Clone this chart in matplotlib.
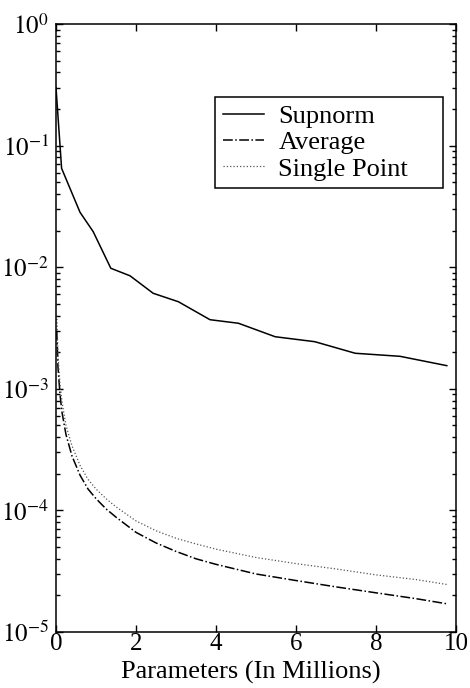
import matplotlib
matplotlib.use("Agg")
import matplotlib.pyplot as plt
from matplotlib.ticker import LogLocator

plt.rcParams['font.family'] = ['Liberation Serif', 'DejaVu Serif']
plt.rcParams['mathtext.fontset'] = 'stix'

# Supnorm error (piecewise linear)
sup_x = [0.0, 0.14, 0.6, 0.93, 1.37, 1.85, 2.43, 3.06, 3.85, 4.56, 5.48, 6.47, 7.48, 8.6, 9.77]
sup_y = [0.30, 0.065, 0.0283, 0.0196, 0.0098, 0.0085, 0.0061, 0.0052, 0.0037,
         0.00346, 0.00268, 0.00244, 0.00196, 0.00185, 0.00155]

# Average and Single Point errors
avg_x = [0.02, 0.05, 0.1, 0.15, 0.25, 0.4, 0.6, 0.8, 1.0, 1.25, 1.5, 2.0, 2.5, 3.0,
         3.5, 4.0, 5.0, 6.0, 7.0, 8.0, 9.0, 9.8]
avg_y = [3.0e-3, 1.5e-3, 9.0e-4, 6.4e-4, 4.2e-4, 2.8e-4, 1.95e-4, 1.5e-4, 1.25e-4,
         1.03e-4, 8.8e-5, 6.6e-5, 5.4e-5, 4.6e-5, 4.0e-5, 3.6e-5, 3.0e-5, 2.65e-5,
         2.35e-5, 2.1e-5, 1.88e-5, 1.7e-5]
sp_y = [4.0e-3, 1.9e-3, 1.1e-3, 7.8e-4, 5.0e-4, 3.4e-4, 2.35e-4, 1.8e-4, 1.5e-4,
        1.25e-4, 1.07e-4, 8.2e-5, 6.8e-5, 5.9e-5, 5.3e-5, 4.8e-5, 4.1e-5, 3.65e-5,
        3.3e-5, 2.95e-5, 2.7e-5, 2.45e-5]

series_labels = ["Supnorm", "Average", "Single Point"]
x_ticks = [0, 2, 4, 6, 8, 10]
y_ticks = [1e-5, 1e-4, 1e-3, 1e-2, 1e-1, 1e0]
y_ticklabels = [r'$10^{-5}$', r'$10^{-4}$', r'$10^{-3}$', r'$10^{-2}$', r'$10^{-1}$', r'$10^{0}$']

fig = plt.figure(figsize=(4.70, 6.88), dpi=100)
ax = fig.add_axes([56/470, 56/688, 400/470, 608/688])

ax.plot(sup_x, sup_y, color='black', lw=1.1, ls='-', label=series_labels[0])
ax.plot(avg_x, avg_y, color='black', lw=1.1, ls='-.', label=series_labels[1])
ax.plot(avg_x, sp_y, color='#555555', lw=0.9, ls=':', label=series_labels[2])

ax.set_yscale('log')
ax.set_xlim(0, 10)
ax.set_ylim(1e-5, 1e0)
ax.set_xticks(x_ticks)
ax.set_xticklabels([str(t) for t in x_ticks])
ax.set_yticks(y_ticks)
ax.set_yticklabels(y_ticklabels)
ax.yaxis.set_minor_locator(LogLocator(base=10, subs=range(2, 10), numticks=20))
ax.yaxis.set_minor_formatter(plt.NullFormatter())

ax.tick_params(which='both', direction='in', top=True, right=True, width=1.0)
ax.tick_params(which='major', length=5, labelsize=18)
ax.tick_params(which='minor', length=3)
ax.tick_params(axis='y', which='major', pad=5)
ax.tick_params(axis='x', which='major', pad=1)
for s in ax.spines.values():
    s.set_linewidth(1.1)

ax.set_xlabel("Parameters (In Millions)", fontsize=19)
ax.xaxis.set_label_coords(0.4875, -0.066, transform=ax.transAxes)
ax.xaxis.label.set_va('center')

leg = ax.legend(loc='upper left', bbox_to_anchor=(0.3975, 0.732, 0.57, 0.148),
                mode='expand', fontsize=19,
                frameon=True, fancybox=False, framealpha=1, edgecolor='black',
                handlelength=1.55, handletextpad=0.55, labelspacing=0.1,
                borderpad=0.3, borderaxespad=0)
leg.get_frame().set_linewidth(1.1)

fig.savefig("out.png", dpi=100)
